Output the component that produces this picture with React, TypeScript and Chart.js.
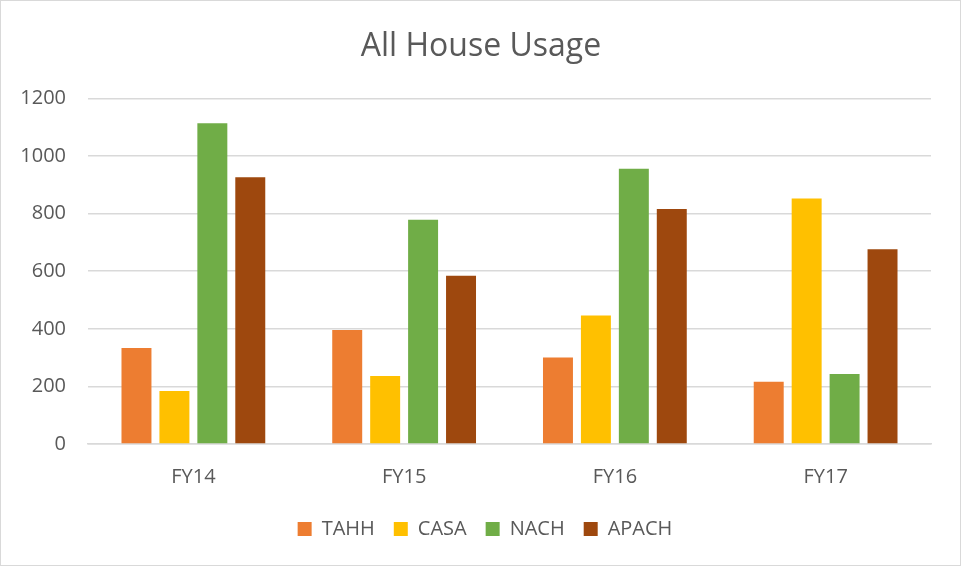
import React, { useEffect, useRef } from "react";
import { Chart, registerables } from "chart.js";

Chart.register(...registerables);

const categories = ["FY14", "FY15", "FY16", "FY17"];
const tahh = [333, 396, 300, 216];
const casa = [184, 236, 446, 852];
const nach = [1114, 779, 956, 243];
const apach = [926, 584, 816, 676];
const yTicks = [0, 200, 400, 600, 800, 1000, 1200];

const FONT = "'Open Sans', 'Liberation Sans', sans-serif";

const shiftPlugin = {
  id: "shiftBlocks",
  afterLayout(chart: any) {
    const lg = chart.legend;
    if (lg) {
      lg.left += 14;
      lg.right += 14;
    }
    const tb = chart.titleBlock;
    if (tb) {
      tb.left += 10;
      tb.right += 10;
    }
  },
};

export default function App() {
  const ref = useRef<HTMLCanvasElement>(null);
  useEffect(() => {
    document.body.style.margin = "0";
    const chart = new Chart(ref.current!, {
      type: "bar",
      data: {
        labels: categories,
        datasets: [
          { label: "TAHH", data: tahh, backgroundColor: "#ED7D31" },
          { label: "CASA", data: casa, backgroundColor: "#FFC000" },
          { label: "NACH", data: nach, backgroundColor: "#70AD47" },
          { label: "APACH", data: apach, backgroundColor: "#9E480E" },
        ],
      },
      plugins: [shiftPlugin],
      options: {
        animation: false,
        responsive: false,
        maintainAspectRatio: false,
        layout: { padding: { left: 10, right: 29, top: 0, bottom: 16 } },
        datasets: { bar: { categoryPercentage: 0.72, barPercentage: 0.79 } },
        plugins: {
          title: {
            display: true,
            text: "All House Usage",
            color: "#595959",
            font: { family: FONT, size: 32, weight: "normal" },
            padding: { top: 27, bottom: 32 },
          },
          legend: {
            position: "bottom",
            labels: {
              boxWidth: 14,
              boxHeight: 14,
              color: "#595959",
              font: { family: FONT, size: 20 },
              padding: 19,
            },
          },
          tooltip: { enabled: false },
        },
        scales: {
          x: {
            grid: { display: false, drawTicks: false },
            border: { color: "#d9d9d9", width: 1.5 },
            ticks: {
              color: "#595959",
              font: { family: FONT, size: 20 },
              padding: 21,
            },
            afterFit: (scale: any) => {
              scale.height = 56;
            },
          },
          y: {
            min: 0,
            max: 1200,
            afterBuildTicks: (scale: any) => {
              scale.ticks = yTicks.map((v) => ({ value: v }));
            },
            afterFit: (scale: any) => {
              scale.width = 77;
            },
            grid: { color: "#d9d9d9", lineWidth: 1.5, drawTicks: false },
            border: { display: false },
            ticks: {
              color: "#595959",
              font: { family: FONT, size: 20 },
              padding: 22,
              callback: (v: any) => String(v),
            },
          },
        },
      },
    });
    return () => chart.destroy();
  }, []);
  return (
    <div
      style={{
        position: "absolute",
        left: 0,
        top: 0,
        width: 961,
        height: 566,
        boxSizing: "border-box",
        border: "1px solid #d9d9d9",
        background: "#fff",
      }}
    >
      <canvas ref={ref} width={959} height={564} style={{ display: "block" }} />
    </div>
  );
}
